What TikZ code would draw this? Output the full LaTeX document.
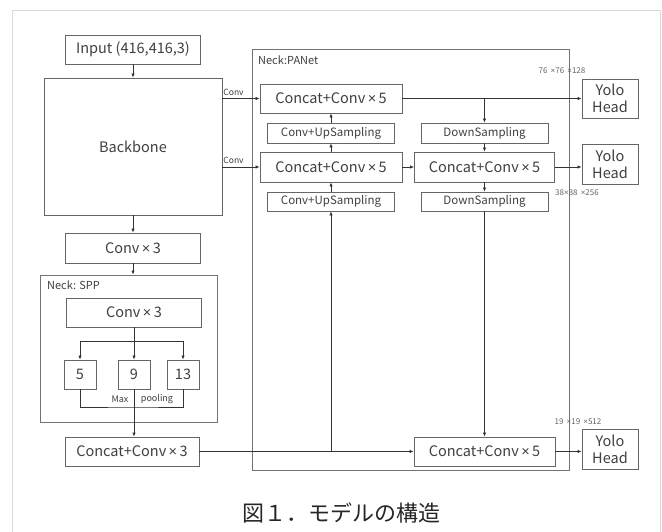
\documentclass[tikz,border=0pt]{standalone}
\usepackage{fontspec}
\setmainfont{Noto Sans CJK JP}
\newfontfamily\xfont{Liberation Sans}
\newcommand\xmul{\,{\xfont ×}\,}
\usetikzlibrary{arrows.meta,calc}
\begin{document}
\begin{tikzpicture}[x=1pt,y=-1pt,
  txt/.style={text=black!75},
  box/.style={draw=black!60,line width=0.7pt,inner sep=0pt,txt,align=center},
  frame/.style={draw=black!55,line width=0.7pt},
  arr/.style={draw=black!80,line width=0.6pt,-{Latex[length=4pt,width=3.2pt]}},
  ln/.style={draw=black!80,line width=0.6pt},
  big/.style={font=\fontsize{14.5}{16}\selectfont},
  mid/.style={font=\fontsize{11.5}{13}\selectfont},
  lab/.style={txt,inner sep=0pt,font=\fontsize{9}{10}\selectfont},
  dim/.style={text=black!60,inner sep=0pt,font=\fontsize{8}{9}\selectfont}]
\useasboundingbox (0,0) rectangle (662,532);
\fill[white] (0,0) rectangle (662,532);
% outer light frame
\draw[black!15,line width=1pt] (12,540) -- (12,11) -- (660,11) -- (660,540);
% left column
\node[box,big,minimum width=135,minimum height=29] (input) at (133,49.5) {Input (416,416,3)};
\node[box,big,minimum width=178,minimum height=137] (backbone) at (133,146.5) {Backbone};
\node[box,big,minimum width=135,minimum height=30] (conv3a) at (133,248) {Conv\xmul 3};
\node[frame,minimum width=177,minimum height=147,inner sep=0pt] (spp) at (128.5,348.5) {};
\node[lab,anchor=north west,font=\fontsize{11}{12}\selectfont] (spplab) at (47,281) {Neck: SPP};
\node[box,big,minimum width=135,minimum height=29] (conv3b) at (134,312.5) {Conv\xmul 3};
\node[box,big,minimum width=32,minimum height=29] (p5) at (80,374.5) {5};
\node[box,big,minimum width=32,minimum height=29] (p9) at (134,374.5) {9};
\node[box,big,minimum width=32,minimum height=29] (p13) at (183,374.5) {13};
\node[lab] (maxlab) at (120,399) {Max};
\node[lab] (poollab) at (157,399) {pooling};
\node[box,big,minimum width=134,minimum height=29] (ccat3) at (132,451.5) {Concat+Conv\xmul 3};
% PANet
\node[frame,minimum width=317,minimum height=421,inner sep=0pt] (panet) at (410.5,259.5) {};
\node[txt,anchor=north west,inner sep=0pt,font=\fontsize{11}{12}\selectfont] (panetlab) at (258,56) {Neck:PANet};
\node[box,big,minimum width=142,minimum height=29] (ct) at (331,98.5) {Concat+Conv\xmul 5};
\node[box,mid,minimum width=127,minimum height=20] (up1) at (331,133) {Conv+UpSampling};
\node[box,big,minimum width=142,minimum height=30] (cm) at (331,167) {Concat+Conv\xmul 5};
\node[box,mid,minimum width=127,minimum height=19] (up2) at (331,201.5) {Conv+UpSampling};
\node[box,mid,minimum width=127,minimum height=20] (ds1) at (484.5,133) {DownSampling};
\node[box,big,minimum width=140,minimum height=30] (cr) at (484.5,167) {Concat+Conv\xmul 5};
\node[box,mid,minimum width=127,minimum height=19] (ds2) at (484.5,201.5) {DownSampling};
\node[box,big,minimum width=141,minimum height=29] (cb) at (484.5,451.5) {Concat+Conv\xmul 5};
% Yolo heads
\node[box,big,minimum width=56,minimum height=39,font=\fontsize{14.5}{17}\selectfont] (y1) at (610,98.5) {Yolo\\Head};
\node[box,big,minimum width=56,minimum height=40,font=\fontsize{14.5}{17}\selectfont] (y2) at (610,164) {Yolo\\Head};
\node[box,big,minimum width=56,minimum height=40,font=\fontsize{14.5}{17}\selectfont] (y3) at (610,449) {Yolo\\Head};
% dimension labels
\node[dim] (d1) at (562,71) {76 \,{\xfont ×}76 \,{\xfont ×}128};
\node[dim] (d2) at (577,193) {38{\xfont ×}38 \,{\xfont ×}256};
\node[dim] (d3) at (578,422) {19 \,{\xfont ×}19 \,{\xfont ×}512};
% caption
\node[text=black!85,inner sep=0pt,font=\fontsize{22}{24}\selectfont] (cap) at (341,513) {図１．モデルの構造};
% connectors left column
\draw[arr] (input) -- (backbone);
\draw[arr] (backbone) -- (conv3a);
\draw[arr] (conv3a) -- (conv3a.south |- spp.north);
\coordinate (br) at (134,341);
\draw[arr] (conv3b) -- (p9);
\draw[arr] (br) -| (p5.north);
\draw[arr] (br) -| (p13.north);
\coordinate (bm) at (134,407);
\draw[ln] (p5.south) |- (bm) -| (p13.south);
\draw[arr] (p9.south) -- (p9.south |- ccat3.north);
% backbone to PANet
\draw[arr] (backbone.east |- ct.west) -- node[lab,above=3pt,pos=0.3,font=\fontsize{8.5}{9}\selectfont]{Conv} (ct.west);
\draw[arr] (backbone.east |- cm.west) -- node[lab,above=3pt,pos=0.3,font=\fontsize{8.5}{9}\selectfont]{Conv} (cm.west);
% PANet internal
\draw[arr] (cm) -- (up1);
\draw[arr] (up1) -- (ct);
\draw[arr] (up2) -- (cm);
\draw[arr] (ccat3.east) -- (cb.west);
\coordinate (j1) at (ccat3.east -| up2.south);
\draw[arr] (j1) -- (up2.south);
\draw[arr] (ct.east) -- (y1.west);
\coordinate (j2) at (ct.east -| ds1.north);
\draw[arr] (j2) -- (ds1.north);
\draw[arr] (ds1) -- (cr);
\draw[arr] (cm) -- (cr);
\draw[arr] (cr.east) -- (cr.east -| y2.west);
\draw[arr] (cr) -- (ds2);
\draw[arr] (ds2) -- (cb);
\draw[arr] (cb.east) -- (cb.east -| y3.west);
\end{tikzpicture}
\end{document}
